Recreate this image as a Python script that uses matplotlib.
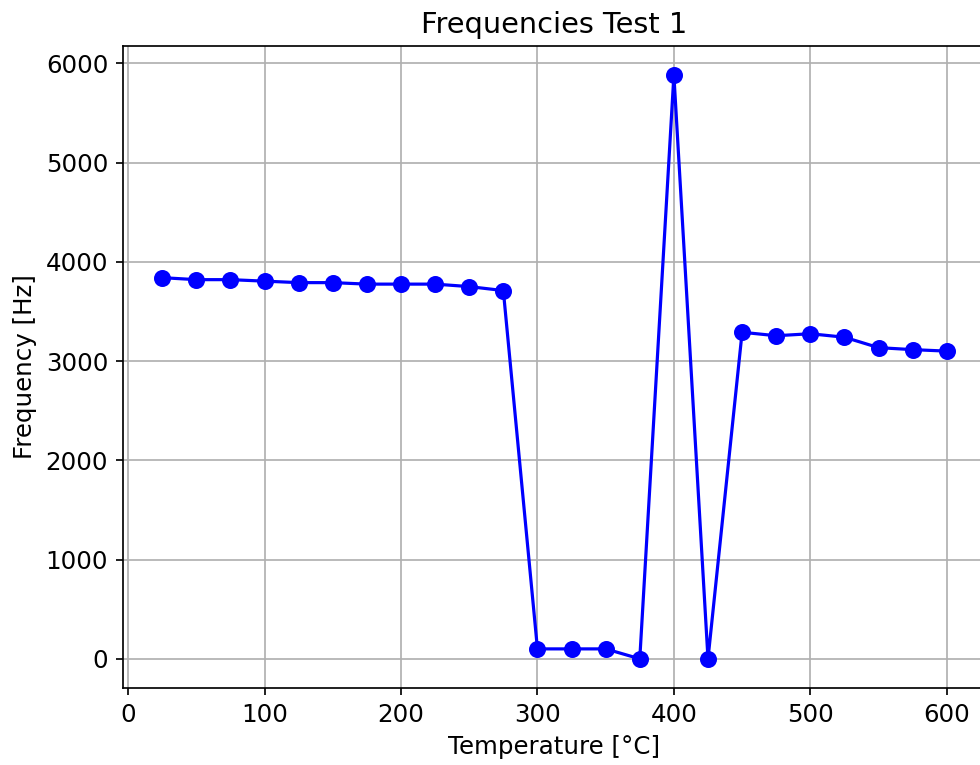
import numpy as np
import matplotlib.pyplot as plt

# temperature steps and measured resonance frequency
temperature = [25, 50, 75, 100, 125, 150, 175, 200, 225, 250, 275, 300,
               325, 350, 375, 400, 425, 450, 475, 500, 525, 550, 575, 600]
frequency = [3840, 3820, 3820, 3805, 3790, 3790, 3775, 3775, 3775, 3750, 3710, 100,
             100, 100, 0, 5880, 0, 3290, 3255, 3275, 3240, 3135, 3115, 3100]

plt.rcParams["font.size"] = 11.5

fig = plt.figure(figsize=(980 / 153, 765 / 153), dpi=153)
ax = fig.add_axes([123 / 980, 77 / 765, 863 / 980, 642 / 765])

ax.plot(temperature, frequency, "bo-", markersize=7)
ax.set_title("Frequencies Test 1", fontsize=13.5)
ax.set_xlabel("Temperature [°C]")
ax.set_ylabel("Frequency [Hz]")
ax.grid(True)

fig.savefig("out.png", dpi=153)
